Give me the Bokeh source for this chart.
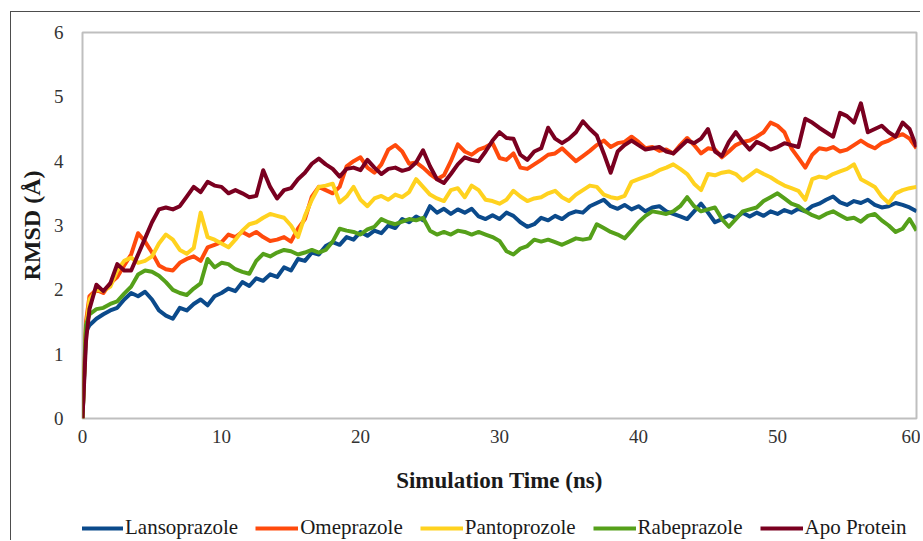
from bokeh.plotting import figure
from bokeh.models import Legend, LegendItem, FixedTicker, Range1d, ColumnDataSource
from bokeh.layouts import column
from bokeh.embed import file_html
from bokeh.resources import INLINE

TIME = [0.0, 0.25] + [round(0.5 * k, 1) for k in range(1, 121)]

LANSOPRAZOLE = [0, 1.35,
    1.45, 1.55, 1.62, 1.68, 1.72, 1.85, 1.95, 1.9, 1.97, 1.85,
    1.68, 1.6, 1.55, 1.72, 1.68, 1.78, 1.85, 1.76, 1.9, 1.95,
    2.02, 1.98, 2.12, 2.06, 2.18, 2.14, 2.24, 2.2, 2.35, 2.3,
    2.48, 2.45, 2.58, 2.55, 2.68, 2.74, 2.7, 2.82, 2.78, 2.9,
    2.84, 2.92, 2.88, 3.0, 2.96, 3.1, 3.05, 3.14, 3.08, 3.3,
    3.2, 3.26, 3.18, 3.25, 3.2, 3.26, 3.14, 3.1, 3.16, 3.1,
    3.2, 3.15, 3.05, 2.98, 3.02, 3.12, 3.08, 3.15, 3.1, 3.18,
    3.22, 3.2, 3.3, 3.35, 3.4, 3.3, 3.26, 3.32, 3.25, 3.3,
    3.22, 3.28, 3.3, 3.22, 3.18, 3.14, 3.1, 3.22, 3.34, 3.2,
    3.05, 3.1, 3.16, 3.12, 3.2, 3.14, 3.2, 3.15, 3.22, 3.18,
    3.24, 3.2, 3.26, 3.22, 3.3, 3.34, 3.4, 3.45, 3.36, 3.32,
    3.38, 3.35, 3.4, 3.32, 3.28, 3.3, 3.35, 3.32, 3.28, 3.22]

OMEPRAZOLE = [0, 1.5,
    1.9, 2.0, 1.95, 2.1, 2.2, 2.38, 2.55, 2.88, 2.75, 2.58,
    2.38, 2.32, 2.3, 2.42, 2.48, 2.52, 2.45, 2.66, 2.7, 2.74,
    2.86, 2.82, 2.9, 2.84, 2.9, 2.82, 2.76, 2.78, 2.82, 2.75,
    2.95, 3.1, 3.45, 3.6, 3.55, 3.5, 3.6, 3.92, 4.0, 4.06,
    3.9, 3.82, 3.95, 4.18, 4.25, 4.15, 3.96, 3.98, 3.9, 3.8,
    3.72, 3.78, 4.0, 4.26, 4.15, 4.1, 4.18, 4.22, 4.28, 4.05,
    4.02, 4.12, 3.9, 3.88, 3.95, 4.02, 4.1, 4.12, 4.2, 4.1,
    4.0, 4.08, 4.16, 4.25, 4.32, 4.22, 4.28, 4.3, 4.38, 4.3,
    4.2, 4.22, 4.16, 4.18, 4.12, 4.25, 4.36, 4.25, 4.12, 4.2,
    4.18, 4.06, 4.15, 4.25, 4.3, 4.32, 4.38, 4.45, 4.6, 4.55,
    4.45, 4.2, 4.05, 3.9, 4.1, 4.2, 4.18, 4.22, 4.15, 4.18,
    4.25, 4.32, 4.25, 4.2, 4.28, 4.32, 4.38, 4.42, 4.35, 4.2]

PANTOPROZOLE = [0, 1.4,
    1.85, 2.0, 1.98, 2.05, 2.3, 2.45, 2.5, 2.42, 2.45, 2.52,
    2.72, 2.86, 2.78, 2.62, 2.56, 2.65, 3.2, 2.82, 2.78, 2.72,
    2.66, 2.78, 2.92, 3.02, 3.05, 3.12, 3.18, 3.15, 3.12, 3.0,
    2.82, 3.15, 3.4, 3.6, 3.62, 3.65, 3.36, 3.45, 3.6, 3.4,
    3.3, 3.42, 3.46, 3.4, 3.48, 3.44, 3.52, 3.72, 3.6, 3.48,
    3.42, 3.38, 3.55, 3.58, 3.44, 3.62, 3.55, 3.4, 3.38, 3.34,
    3.4, 3.54, 3.45, 3.38, 3.42, 3.44, 3.5, 3.54, 3.44, 3.38,
    3.48, 3.55, 3.62, 3.6, 3.48, 3.44, 3.42, 3.46, 3.68, 3.72,
    3.76, 3.8, 3.86, 3.9, 3.95, 3.88, 3.8, 3.65, 3.55, 3.8,
    3.78, 3.82, 3.84, 3.8, 3.7, 3.78, 3.86, 3.8, 3.75, 3.68,
    3.62, 3.58, 3.54, 3.4, 3.72, 3.76, 3.74, 3.8, 3.84, 3.88,
    3.95, 3.72, 3.66, 3.6, 3.45, 3.35, 3.5, 3.55, 3.58, 3.6]

RABEPRAZOLE = [0, 1.45,
    1.62, 1.7, 1.72, 1.78, 1.82, 1.94, 2.05, 2.24, 2.3, 2.28,
    2.22, 2.12, 2.0, 1.95, 1.92, 2.02, 2.1, 2.48, 2.35, 2.42,
    2.4, 2.32, 2.28, 2.25, 2.45, 2.56, 2.52, 2.58, 2.62, 2.6,
    2.55, 2.58, 2.62, 2.58, 2.62, 2.75, 2.95, 2.92, 2.9, 2.86,
    2.94, 2.98, 3.1, 3.05, 3.02, 3.06, 3.1, 3.08, 3.12, 2.92,
    2.86, 2.9, 2.86, 2.92, 2.9, 2.86, 2.9, 2.86, 2.82, 2.76,
    2.6, 2.55, 2.64, 2.68, 2.78, 2.75, 2.78, 2.74, 2.7, 2.75,
    2.8, 2.78, 2.8, 3.02, 2.96, 2.9, 2.86, 2.8, 2.92, 3.05,
    3.15, 3.22, 3.2, 3.18, 3.22, 3.3, 3.44, 3.3, 3.22, 3.25,
    3.28, 3.1, 2.98, 3.1, 3.22, 3.25, 3.28, 3.38, 3.44, 3.5,
    3.42, 3.34, 3.3, 3.22, 3.16, 3.12, 3.18, 3.22, 3.16, 3.1,
    3.12, 3.06, 3.15, 3.18, 3.08, 3.0, 2.9, 2.95, 3.1, 2.92]

APO_PROTEIN = [0, 1.2,
    1.7, 2.08, 1.98, 2.1, 2.4, 2.3, 2.3, 2.55, 2.8, 3.05,
    3.25, 3.28, 3.25, 3.3, 3.45, 3.6, 3.52, 3.68, 3.62, 3.6,
    3.5, 3.55, 3.5, 3.44, 3.46, 3.86, 3.6, 3.42, 3.55, 3.58,
    3.72, 3.82, 3.96, 4.04, 3.95, 3.88, 3.76, 3.88, 3.9, 3.86,
    4.02, 3.9, 3.8, 3.88, 3.9, 3.85, 3.88, 3.98, 4.17, 3.92,
    3.72, 3.66, 3.8, 3.95, 4.06, 4.02, 4.0, 4.15, 4.32, 4.45,
    4.36, 4.35, 4.1, 4.02, 4.15, 4.2, 4.52, 4.35, 4.28, 4.35,
    4.45, 4.62, 4.5, 4.4, 4.12, 3.82, 4.15, 4.25, 4.32, 4.25,
    4.18, 4.2, 4.22, 4.15, 4.12, 4.22, 4.32, 4.28, 4.35, 4.5,
    4.15, 4.08, 4.3, 4.45, 4.3, 4.18, 4.3, 4.25, 4.18, 4.22,
    4.28, 4.25, 4.22, 4.66, 4.6, 4.52, 4.45, 4.38, 4.75, 4.7,
    4.6, 4.9, 4.45, 4.5, 4.55, 4.45, 4.38, 4.6, 4.5, 4.22]

SERIES_NAMES = ["Lansoprazole", "Omeprazole", "Pantoprozole", "Rabeprazole", "Apo Protein"]
SERIES_VALUES = [LANSOPRAZOLE, OMEPRAZOLE, PANTOPROZOLE, RABEPRAZOLE, APO_PROTEIN]
SERIES_COLORS = ["#0B4A8B", "#FF4A0C", "#FFD21F", "#55A01A", "#7A0020"]

X_TICKS = [0, 10, 20, 30, 40, 50, 60]
Y_TICKS = [0, 1, 2, 3, 4, 5, 6]

FONT = "Liberation Serif"
OX, OY = 11, 12          # content origin inside the outer frame line
W = 920 - OX

p = figure(width=W, height=500 - OY, output_backend="svg", toolbar_location=None,
           x_range=Range1d(0, 60), y_range=Range1d(0, 6),
           min_border_left=82 - OX, min_border_top=32 - OY,
           min_border_right=OX + W - 916, min_border_bottom=82)
p.background_fill_color = "white"
p.border_fill_color = "white"
p.outline_line_color = "#BFBFBF"
p.outline_line_width = 2
p.xgrid.grid_line_color = None
p.ygrid.grid_line_color = None

for ax in (p.xaxis[0], p.yaxis[0]):
    ax.axis_line_color = None
    ax.major_tick_line_color = None
    ax.minor_tick_line_color = None
    ax.major_tick_out = 0
    ax.major_tick_in = 0
    ax.minor_tick_out = 0
    ax.minor_tick_in = 0
    ax.major_label_text_font = FONT
    ax.major_label_text_font_size = "19px"
    ax.major_label_text_color = "#333333"
    ax.axis_label_text_font = FONT
    ax.axis_label_text_font_style = "bold"
    ax.axis_label_text_color = "#1a1a1a"

p.xaxis.axis_label_text_font_size = "23px"
p.yaxis.axis_label_text_font_size = "24px"
p.xaxis.ticker = FixedTicker(ticks=X_TICKS)
p.yaxis.ticker = FixedTicker(ticks=Y_TICKS)
p.xaxis.axis_label = "Simulation Time (ns)"
p.yaxis.axis_label = "RMSD (Å)"
p.xaxis.major_label_standoff = 11
p.xaxis.axis_label_standoff = 22
p.yaxis.major_label_standoff = 19
p.yaxis.axis_label_standoff = 6

# legend strip: same data, drawn into a range where it is out of view
pl = figure(width=W, height=40, output_backend="svg", toolbar_location=None,
            x_range=Range1d(0, 60), y_range=Range1d(100, 101),
            x_axis_location=None, y_axis_location=None,
            min_border_left=0, min_border_right=0, min_border_top=0, min_border_bottom=0)
pl.outline_line_color = None
pl.xgrid.grid_line_color = None
pl.ygrid.grid_line_color = None
pl.background_fill_color = "white"
pl.border_fill_color = "white"

items = []
for name, vals, col in zip(SERIES_NAMES, SERIES_VALUES, SERIES_COLORS):
    src = ColumnDataSource(data=dict(t=TIME, v=vals))
    p.line("t", "v", source=src, line_color=col, line_width=4, line_join="round")
    r2 = pl.line("t", "v", source=src, line_color=col, line_width=4)
    items.append(LegendItem(label=name, renderers=[r2]))

legend = Legend(items=items, orientation="horizontal", location=(-2, 0),
                glyph_width=43, glyph_height=20, label_standoff=2, spacing=17, padding=2, margin=0,
                label_text_font=FONT, label_text_font_size="21px", label_text_color="#1a1a1a",
                border_line_color=None, background_fill_alpha=0)
pl.add_layout(legend, "center")

layout = column(p, pl, spacing=0, margin=(OY - 1, 0, 0, OX - 1),
                styles={"border-left": "1px solid #4d4d4d", "border-top": "1px solid #4d4d4d"})
open("out.html", "w").write(file_html(layout, INLINE))
